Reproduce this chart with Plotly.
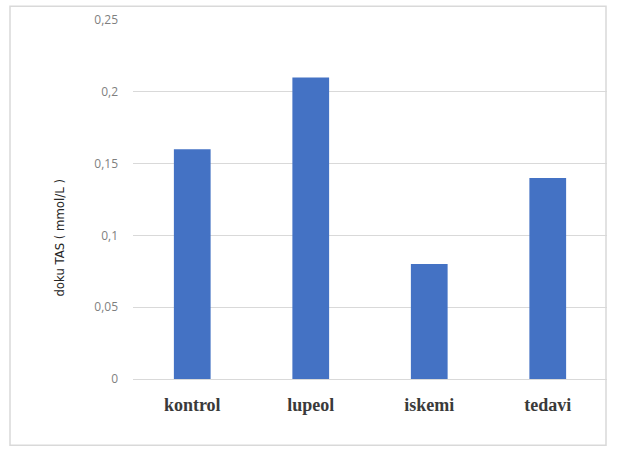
import plotly.graph_objects as go

# Tissue TAS levels per group
groups = ["kontrol", "lupeol", "iskemi", "tedavi"]
tas_values = [0.16, 0.21, 0.08, 0.14]
y_ticks = [0, 0.05, 0.1, 0.15, 0.2, 0.25]

W, H = 618, 451
ml, mr, mt, mb = 133, 11, 16, 72
pw, ph = W - ml - mr, H - mt - mb

fig = go.Figure(
    go.Bar(
        x=groups,
        y=tas_values,
        marker=dict(color="#4472C4", line=dict(width=0)),
        width=0.31,
    )
)

# outer chart-area border, expressed in paper coordinates
bx0, bx1 = 10, 606
by0, by1 = 2, 446
fig.add_shape(
    type="rect",
    xref="paper", yref="paper",
    x0=(bx0 - ml) / pw, x1=(bx1 - ml) / pw,
    y0=(H - mb - by1) / ph, y1=(H - mb - by0) / ph,
    line=dict(color="#d9d9d9", width=1.5),
    fillcolor="rgba(0,0,0,0)",
    layer="below",
)

# vertical axis title, placed in pixels relative to the plot area
tx, ty = 60, 236
fig.add_annotation(
    text="doku TAS ( mmol/L )",
    xref="paper", yref="paper",
    x=(tx - ml) / pw, y=(H - mb - ty) / ph,
    xanchor="center", yanchor="middle",
    textangle=-90,
    showarrow=False,
    font=dict(family="DejaVu Sans Condensed, Roboto, sans-serif", size=13, color="#262626"),
)

fig.update_layout(
    width=W,
    height=H,
    margin=dict(l=ml, r=mr, t=mt, b=mb),
    paper_bgcolor="white",
    plot_bgcolor="white",
    separators=",.",
    showlegend=False,
    xaxis=dict(
        showgrid=False,
        showline=False,
        ticks="",
        ticklabelstandoff=13,
        tickfont=dict(family="Liberation Serif", size=18, color="#3a3a3a", weight="bold"),
    ),
    yaxis=dict(
        range=[0, 0.25],
        tickvals=y_ticks,
        showgrid=True,
        gridcolor="#d9d9d9",
        gridwidth=1,
        zeroline=True,
        zerolinecolor="#d9d9d9",
        zerolinewidth=1,
        showline=False,
        ticks="",
        ticklabelstandoff=14,
        tickfont=dict(family="Open Sans", size=12, color="#7f7f7f"),
    ),
)

fig.write_html("out.html")
